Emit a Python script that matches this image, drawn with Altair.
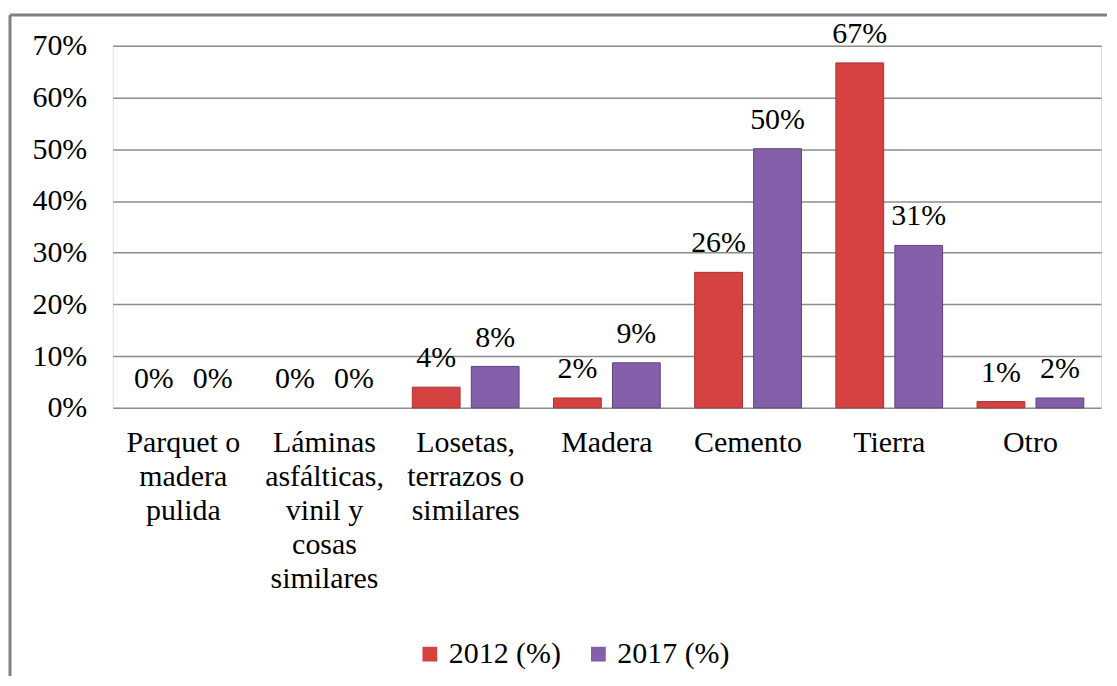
import altair as alt
import pandas as pd

categories = [
    "Parquet o\nmadera\npulida",
    "Láminas\nasfálticas,\nvinil y\ncosas\nsimilares",
    "Losetas,\nterrazos o\nsimilares",
    "Madera",
    "Cemento",
    "Tierra",
    "Otro",
]
series = ["2012 (%)", "2017 (%)"]
values_2012 = [0.0, 0.0, 0.040, 0.019, 0.262, 0.667, 0.012]
values_2017 = [0.0, 0.0, 0.080, 0.087, 0.501, 0.314, 0.019]
y_ticks = [0, 0.1, 0.2, 0.3, 0.4, 0.5, 0.6, 0.7]
colors = ["#D64242", "#8560AA"]

rows = []
for c, a, b in zip(categories, values_2012, values_2017):
    rows.append({"cat": c, "serie": series[0], "v": a})
    rows.append({"cat": c, "serie": series[1], "v": b})
df = pd.DataFrame(rows)

FONT = "Liberation Serif"
FS = 30

x_enc = alt.X("cat:N", sort=categories, title=None,
              scale=alt.Scale(paddingInner=0.244, paddingOuter=0.122),
              axis=alt.Axis(labelExpr="split(datum.label, '\\n')", labelAngle=0,
                            labelLineHeight=34, labelPadding=20, ticks=False,
                            domain=False, labelFont=FONT, labelFontSize=FS,
                            labelColor="black", labelBaseline="top"))
xoff = alt.XOffset("serie:N", sort=series,
                   scale=alt.Scale(domain=series, paddingInner=0.19, paddingOuter=0))
y_enc = alt.Y("v:Q", title=None,
              scale=alt.Scale(domain=[0, 0.7], nice=False),
              axis=alt.Axis(values=y_ticks, format=".0%", ticks=False, domain=False,
                            labelPadding=26, labelFont=FONT, labelFontSize=FS,
                            labelColor="black", gridColor="#8c8c8c", gridWidth=1.5))

color = alt.Color("serie:N", sort=series, title=None,
                  scale=alt.Scale(domain=series, range=colors),
                  legend=alt.Legend(orient="none", legendX=303, legendY=595,
                                    direction="horizontal", symbolType="square",
                                    symbolSize=220, symbolStrokeWidth=0,
                                    labelFont=FONT, labelFontSize=FS, labelColor="black",
                                    columnPadding=22, labelOffset=4))

base = alt.Chart(df)
bars = base.mark_bar(strokeWidth=1).encode(
    x=x_enc, xOffset=xoff, y=y_enc, color=color,
    stroke=alt.Stroke("serie:N", scale=alt.Scale(domain=series, range=["#A83030", "#5E3F80"]), legend=None),
).transform_filter("datum.v > 0")
labels = base.mark_text(font=FONT, fontSize=FS, baseline="bottom", dy=-14, color="black").encode(
    x=alt.X("cat:N", sort=categories), xOffset=xoff, y="v:Q", text=alt.Text("v:Q", format=".0%"),
)

frame = alt.Data(values=[{"a": 1}])
top_rule = alt.Chart(frame).mark_rule(color="#808080", strokeWidth=3).encode(
    x=alt.value(-103), x2=alt.value(997), y=alt.value(-31))
left_rule = alt.Chart(frame).mark_rule(color="#808080", strokeWidth=3).encode(
    x=alt.value(-103), y=alt.value(-31), y2=alt.value(632))

chart = alt.layer(bars, labels, top_rule, left_rule).properties(
    width=991, height=363,
    padding={"left": 0, "top": 4, "right": 0, "bottom": 0},
).configure_view(stroke=None).configure(background="white")

chart.save("out.html", embed_options={"renderer": "svg", "actions": False})
